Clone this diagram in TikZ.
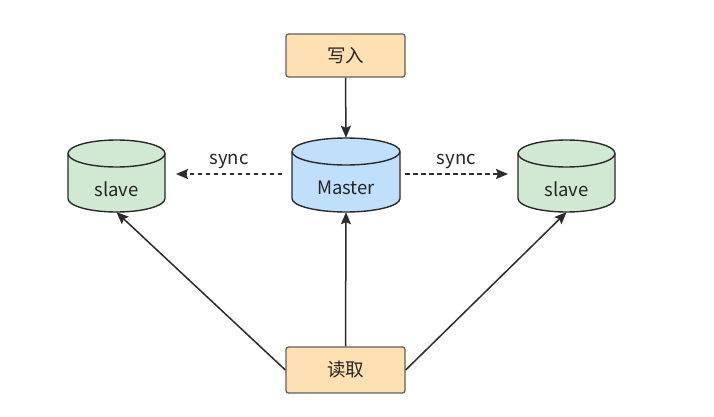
\documentclass[tikz,border=0pt]{standalone}
\usepackage{fontspec}
\setmainfont{Noto Sans CJK SC}
\usetikzlibrary{arrows.meta}
\definecolor{boxfill}{HTML}{FFE0B2}
\definecolor{slavefill}{HTML}{D1E9D3}
\definecolor{masterfill}{HTML}{BFDFFB}
\definecolor{edge}{HTML}{2B2B2B}
\definecolor{txt}{HTML}{262626}
\tikzset{
  boxnode/.style={draw=edge!75, fill=boxfill, line width=1.3pt, rounded corners=2.5pt,
    minimum width=119pt, inner sep=0pt, text=txt, font=\fontsize{18.5pt}{20pt}\selectfont},
  cylbox/.style={inner sep=0pt},
  cyltext/.style={inner sep=0pt, text=txt, font=\fontsize{18.5pt}{20pt}\selectfont},
  cylline/.style={draw=edge, line width=1.4pt},
  conn/.style={draw=edge, line width=1.5pt, -{Stealth[length=12pt,width=10pt,inset=2pt]}},
  syncconn/.style={conn, dash pattern=on 4.5pt off 3.5pt},
  lbl/.style={text=txt, font=\fontsize{18.5pt}{20pt}\selectfont, inner sep=0pt}
}
% #1 name, #2 cx, #3 top, #4 bottom, #5 half width, #6 fill, #7 text
\newcommand{\mycyl}[7]{%
  \path[cylline, fill=#6] (#2pt-#5pt,#3+13.5) -- (#2pt-#5pt,#4-13.5) arc (180:360:#5pt and 13.5pt)
     -- (#2pt+#5pt,#3+13.5) arc (0:180:#5pt and 13.5pt) -- cycle;
  \draw[cylline] (#2pt-#5pt,#3+13.5) arc (180:360:#5pt and 13.5pt);
  \node[cylbox, minimum width=2*#5pt, minimum height=#4pt-#3pt] (#1) at (#2, {(#3+#4)/2}) {};
  \node[cyltext] (#1-t) at (#2, {(#3+#4)/2+13}) {#7};
}
\begin{document}
\begin{tikzpicture}[x=1pt,y=-1pt]
\useasboundingbox (0,0) rectangle (714,417);
\fill[white] (0,0) rectangle (714,417);
\node[boxnode, minimum height=43pt] (w) at (345.5,55.5) {写入};
\node[boxnode, minimum height=46pt] (r) at (345.5,370) {读取};
\mycyl{m}{346}{138}{212}{54}{masterfill}{Master}
\mycyl{sl}{116.5}{140}{212}{48.5}{slavefill}{slave}
\mycyl{sr}{566.5}{140}{212}{48.5}{slavefill}{slave}
\coordinate (lsyncS) at (282,174);
\coordinate (lsyncE) at (176,174);
\coordinate (rsyncS) at (405,174);
\coordinate (rsyncE) at (508,174);
\draw[syncconn] (lsyncS) -- node[lbl, above=4pt] (ls) {sync} (lsyncE);
\draw[syncconn] (rsyncS) -- node[lbl, above=4pt] (rs) {sync} (rsyncE);
\draw[conn] (w.south) -- (m.north);
\draw[conn] (r.north) -- (m.south);
\draw[conn] (r.west) -- (sl.south);
\draw[conn] (r.east) -- (sr.south);
\end{tikzpicture}
\end{document}
